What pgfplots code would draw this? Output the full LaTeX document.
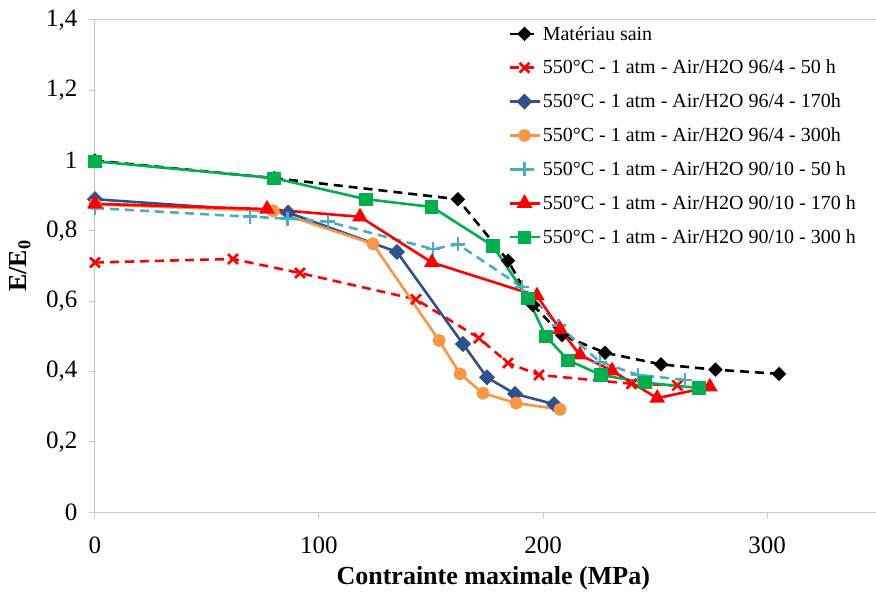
\documentclass[border=0pt]{standalone}
\usepackage{pgfplots}
\pgfplotsset{compat=1.18}
\usepackage{fontspec}
\setmainfont{Liberation Serif}
\definecolor{cred}{RGB}{255,0,0}
\definecolor{cblue}{RGB}{47,82,143}
\definecolor{corange}{RGB}{247,150,70}
\definecolor{clblue}{RGB}{75,172,198}
\definecolor{cgreen}{RGB}{0,176,80}
\definecolor{axgray}{RGB}{200,200,200}
\begin{document}
\begin{tikzpicture}
\begin{axis}[
  scale only axis, width=784pt, height=492pt,
  xmin=0, xmax=350, ymin=0, ymax=1.4,
  axis x line=bottom, axis y line=left,
  axis line style={draw=axgray, line width=1pt, -},
  tick style={draw=axgray, line width=1pt},
  tick align=outside, major tick length=6pt,
  xtick={0,100,200,300}, xticklabels={0,100,200,300},
  ytick={0,0.2,0.4,0.6,0.8,1,1.2,1.4},
  yticklabels={0,{0,2},{0,4},{0,6},{0,8},1,{1,2},{1,4}},
  ticklabel style={font=\fontsize{25}{30}\selectfont, text=black},
  xticklabel style={yshift=-15pt},
  yticklabel style={xshift=-8pt},
  xlabel={\bfseries Contrainte maximale (MPa)},
  ylabel={\bfseries E/E\textsubscript{0}},
  label style={font=\fontsize{26}{30}\selectfont},
  xlabel style={at={(axis description cs:0.508,0)}, anchor=center, yshift=-66pt},
  ylabel style={at={(axis description cs:0,0.5)}, anchor=center, rotate=0, yshift=75pt},
  clip=false,
  legend cell align=left,
  legend style={at={(0.523,0.996)}, anchor=north west, draw=none, fill=none,
    font=\fontsize{20}{24}\selectfont, row sep=14.5pt,
    /tikz/every even column/.append style={column sep=1pt}},
  legend image code/.code={%
    \draw[#1, mark repeat=2, mark phase=2] plot coordinates {(0pt,0pt) (15pt,0pt) (30pt,0pt)};},
  every axis plot/.append style={line width=2.6pt},
]
\draw[axgray, line width=1pt] (axis cs:0,1.4) -- (axis cs:350,1.4);
\addplot[black, dash pattern=on 9pt off 6pt, mark=square*, mark size=3.8pt, mark options={solid, rotate=45}]
coordinates {(0,1.0) (80,0.95) (162,0.89) (184.4,0.715) (195.5,0.589) (208.5,0.503) (227.7,0.453) (252.7,0.42) (277,0.405) (305.4,0.393)};
\addlegendentry{Matériau sain}
\addplot[cred, dash pattern=on 9pt off 6pt, mark=x, mark size=7pt, mark options={solid, line width=2.6pt}]
coordinates {(0,0.71) (61.6,0.72) (91.5,0.68) (143.3,0.605) (171.4,0.495) (184.4,0.424) (198.2,0.39) (239.5,0.365) (260,0.36)};
\addlegendentry{550°C - 1 atm - Air/H2O 96/4 - 50 h}
\addplot[cblue, mark=square*, mark size=4.4pt, mark options={rotate=45}]
coordinates {(0,0.89) (86.2,0.852) (134.8,0.74) (164.3,0.478) (175,0.383) (187.5,0.336) (204.9,0.307)};
\addlegendentry{550°C - 1 atm - Air/H2O 96/4 - 170h}
\addplot[corange, mark=*, mark size=5.2pt]
coordinates {(0,0.875) (79.5,0.857) (124.1,0.763) (153.6,0.488) (163,0.393) (173.2,0.338) (188,0.31) (207.6,0.292)};
\addlegendentry{550°C - 1 atm - Air/H2O 96/4 - 300h}
\addplot[clblue, dash pattern=on 9pt off 6pt, mark=+, mark size=7pt, mark options={solid, line width=2.6pt}]
coordinates {(0,0.865) (69.2,0.84) (86,0.835) (104,0.826) (150.9,0.748) (162,0.762) (190.6,0.64) (207,0.53) (225.4,0.427) (242.4,0.39) (263.4,0.376)};
\addlegendentry{550°C - 1 atm - Air/H2O 90/10 - 50 h}
\addplot[cred, mark=triangle*, mark size=6.5pt]
coordinates {(0,0.877) (76.8,0.862) (118.3,0.84) (150.4,0.71) (197.3,0.615) (207.6,0.52) (216.5,0.447) (230.8,0.402) (251,0.324) (274.5,0.356)};
\addlegendentry{550°C - 1 atm - Air/H2O 90/10 - 170 h}
\addplot[cgreen, mark=square*, mark size=5.3pt]
coordinates {(0,0.998) (79.9,0.95) (121,0.89) (150.4,0.868) (177.7,0.757) (193.3,0.607) (201.3,0.5) (211.2,0.432) (225.9,0.39) (245.5,0.368) (269.6,0.353)};
\addlegendentry{550°C - 1 atm - Air/H2O 90/10 - 300 h}
\end{axis}
\pgfresetboundingbox
\path (-95pt,-80pt) rectangle (781pt,512pt);
\end{tikzpicture}
\end{document}
